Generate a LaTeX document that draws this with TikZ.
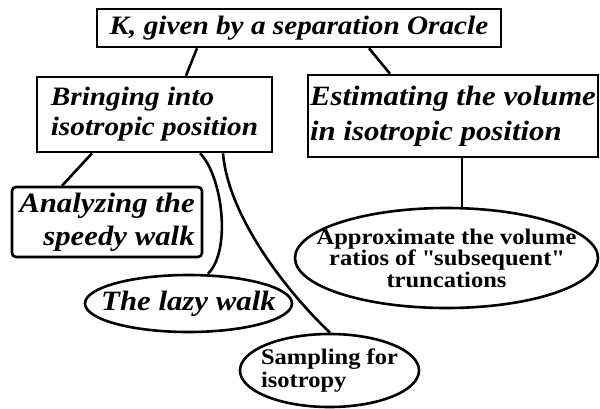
\documentclass[tikz,border=0pt]{standalone}
\usepackage{fontspec}
\setmainfont{Liberation Serif}[FakeStretch=1.1]
\usetikzlibrary{shapes.geometric}

\begin{document}
\begin{tikzpicture}[x=1pt,y=-1pt,line width=2.6pt,
  sq/.style={draw,rectangle,inner sep=0pt,font=\bfseries\itshape},
  ov/.style={draw,ellipse,inner xsep=-60pt,inner ysep=-30pt,font=\bfseries}]
  \useasboundingbox (0,0) rectangle (600,408);

  \node[sq,minimum width=404pt,minimum height=38pt,font=\fontsize{26.6}{30}\selectfont\bfseries\itshape] (K) at (299,28) {K, given by a separation Oracle};

  \node[sq,minimum width=235pt,minimum height=75pt,align=left,font=\fontsize{26.6}{30}\selectfont\bfseries\itshape] (iso) at (154.5,114.5) {Bringing into\\isotropic position};
  \node[sq,minimum width=290pt,minimum height=82pt,align=left,font=\fontsize{28}{35}\selectfont\bfseries\itshape] (vol) at (453,116) {Estimating the volume\\in isotropic position};

  \node[sq,rounded corners=4pt,minimum width=190pt,minimum height=70pt,align=right,font=\fontsize{28}{33}\selectfont\bfseries\itshape] (speedy) at (107,222) {Analyzing the\\speedy walk};
  \node[ov,minimum width=207pt,minimum height=57pt,font=\fontsize{28}{33}\selectfont\bfseries\itshape] (lazy) at (188.5,303.5) {The lazy walk};
  \node[ov,minimum width=179pt,minimum height=73pt,align=left,font=\fontsize{22.3}{23}\selectfont\bfseries] (samp) at (329.5,370.5) {Sampling for\\isotropy};

  \node[ov,minimum width=303pt,minimum height=100pt,align=center,font=\fontsize{22.3}{21.5}\selectfont\bfseries] (ratio) at (446.5,258) {Approximate the volume\\ratios of \textquotedbl subsequent\textquotedbl\\truncations};

  \draw ([xshift=-102pt]K.south) -- ([xshift=31.5pt]iso.north);
  \draw ([xshift=70pt]K.south) -- ([xshift=-63pt]vol.north);

  \draw ([xshift=-62.5pt]iso.south) -- ([xshift=-45pt]speedy.north);
  \draw ([xshift=45.5pt]iso.south) .. controls (222,175) and (232,250) .. ([xshift=19.5pt]lazy.north);
  \draw ([xshift=68.5pt]iso.south) .. controls (228,215) and (285,290) .. ([xshift=0.5pt]samp.north);

  \draw ([xshift=9pt]vol.south) -- ([xshift=9pt]vol.south |- ratio.north);
\end{tikzpicture}
\end{document}
